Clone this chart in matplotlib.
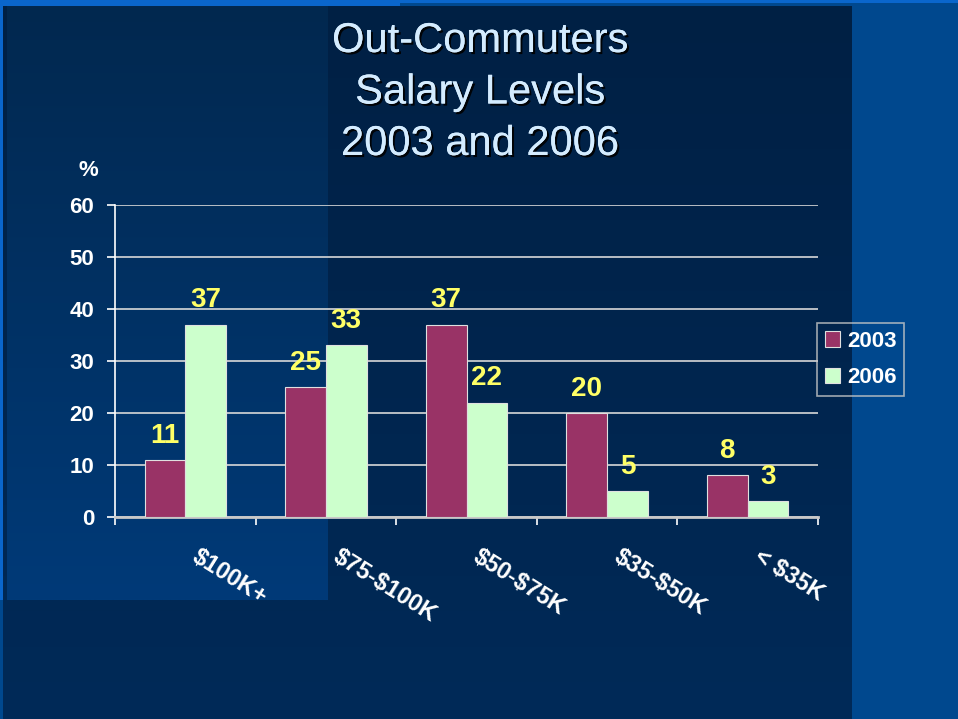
import numpy as np
import matplotlib
matplotlib.use("Agg")
import matplotlib.pyplot as plt
from matplotlib.patches import Rectangle
from matplotlib import patheffects as pe
from matplotlib.transforms import ScaledTranslation
from matplotlib.colors import LinearSegmentedColormap

categories = ["$100K+", "$75-$100K", "$50-$75K", "$35-$50K", "< $35K"]
series_names = ["2003", "2006"]
values_2003 = [11, 25, 37, 20, 8]
values_2006 = [37, 33, 22, 5, 3]
title_lines = ["Out-Commuters", "Salary Levels", "2003 and 2006"]
yticks = [0, 10, 20, 30, 40, 50, 60]

plt.rcParams['font.family'] = ['Liberation Sans', 'DejaVu Sans']
plt.rcParams['text.parse_math'] = False

W, H = 958, 719
fig = plt.figure(figsize=(W / 100, H / 100), dpi=100)
fig.patch.set_facecolor('#00488e')

# background layers
bg = fig.add_axes([0, 0, 1, 1], zorder=-10)
bg.add_patch(Rectangle((0, 0), W, 3, color='#0a66cc', lw=0))
bg.add_patch(Rectangle((0, 0), 400, 6, color='#0a66cc', lw=0))
bg.add_patch(Rectangle((0, 0), 7, 600, color='#0a66cc', lw=0))
grad = np.linspace(0, 1, 256).reshape(-1, 1)
cm_main = LinearSegmentedColormap.from_list('m', ['#002044', '#002a58'])
cm_left = LinearSegmentedColormap.from_list('l', ['#02284f', '#003a78'])
bg.imshow(grad, cmap=cm_main, extent=(3, 852, H, 6), aspect='auto', zorder=1)
bg.imshow(grad, cmap=cm_left, extent=(7, 328, 600, 6), aspect='auto', zorder=2)
bg.set_xlim(0, W)
bg.set_ylim(H, 0)
bg.axis('off')

# title
for i, line in enumerate(title_lines):
    fig.text(480 / W, 1 - (41 + 51.5 * i) / H, line, ha='center', va='center',
             fontsize=30, color='#d4ecff',
             path_effects=[pe.withSimplePatchShadow(offset=(1.5, -1.5), shadow_rgbFace='black', alpha=0.9),
                           pe.Normal()])

# main axes
L, R, T, B = 115, 818, 205, 517
ax = fig.add_axes([L / W, 1 - B / H, (R - L) / W, (B - T) / H])
ax.set_facecolor('none')
x = np.arange(len(categories))
bw = 0.29
b1 = ax.bar(x - bw / 2, values_2003, bw, color='#993366', edgecolor='#e0e0e0', linewidth=0.8,
            label=series_names[0], zorder=3)
b2 = ax.bar(x + bw / 2, values_2006, bw, color='#ccffcc', edgecolor='#e0e0e0', linewidth=0.8,
            label=series_names[1], zorder=3)
for bars in (b1, b2):
    ax.bar_label(bars, padding=8, color='#ffff66', fontsize=20, fontweight='bold')

ax.set_xlim(-0.5, len(categories) - 0.5)
ax.set_ylim(0, 60)
ax.set_yticks(yticks)
ax.set_yticklabels([str(v) for v in yticks])
ax.yaxis.grid(True, color='#d8d8d8', linewidth=1.2, zorder=0)
ax.set_axisbelow(True)
for s in ('top', 'right'):
    ax.spines[s].set_visible(False)
ax.spines['left'].set_color('white')
ax.spines['left'].set_linewidth(1.2)
ax.spines['bottom'].set_color('#c8c8c8')
ax.spines['bottom'].set_linewidth(2)
ax.tick_params(axis='y', colors='white', length=6, width=1.2, pad=9, labelsize=16, direction='out')
for t in ax.get_yticklabels():
    t.set_fontweight('bold')

ax.set_xticks(x)
ax.set_xticks(np.arange(len(categories) + 1) - 0.5, minor=True)
ax.tick_params(axis='x', which='major', length=0, pad=20, labelsize=17, labelcolor='white')
ax.tick_params(axis='x', which='minor', length=6, width=1.2, color='white', direction='out')
ax.set_xticklabels(categories, rotation=-32, ha='left', va='top', rotation_mode='anchor',
                   fontweight='bold')
off = ScaledTranslation(15 / 100, 0, fig.dpi_scale_trans)
for t in ax.get_xticklabels():
    t.set_transform(t.get_transform() + off)

fig.text(88 / W, 1 - 170 / H, '%', ha='center', va='center', fontsize=16,
         fontweight='bold', color='white')

leg = ax.legend(loc='upper left', bbox_to_anchor=(817 / W, 1 - 323 / H),
                bbox_transform=fig.transFigure, borderaxespad=0, frameon=True,
                fancybox=False, edgecolor='#c8c8c8', facecolor='none',
                prop={'size': 16, 'weight': 'bold'}, handlelength=0.7, handleheight=0.7,
                handletextpad=0.3, labelspacing=0.7, borderpad=0.35)
leg.get_frame().set_linewidth(1.2)
for t in leg.get_texts():
    t.set_color('white')

fig.savefig('out.png', dpi=100, facecolor=fig.get_facecolor())
